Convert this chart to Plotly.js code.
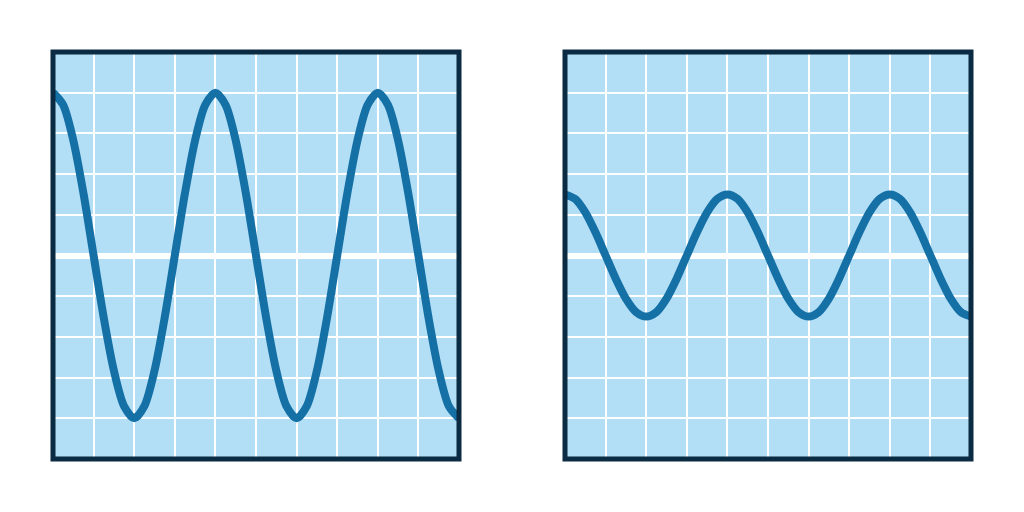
<!DOCTYPE html>
<html>
<head>
<meta charset="utf-8">
<script src="https://cdn.plot.ly/plotly-3.0.1.min.js"></script>
<style>html,body{margin:0;padding:0;background:#fff;}#chart{width:1024px;height:512px;}</style>
</head>
<body>
<div id="chart"></div>
<script>
// Grid-unit positions along each panel
const xPositions = [0,0.25,0.5,0.75,1,1.25,1.5,1.75,2,2.25,2.5,2.75,3,3.25,3.5,3.75,4,4.25,4.5,4.75,5,
                    5.25,5.5,5.75,6,6.25,6.5,6.75,7,7.25,7.5,7.75,8,8.25,8.5,8.75,9,9.25,9.5,9.75,10];
// Left panel: large-amplitude wave
const leftWave  = [4,3.7,2.83,1.53,0,-1.53,-2.83,-3.7,-4,-3.7,-2.83,-1.53,0,1.53,2.83,3.7,4,3.7,2.83,1.53,0,
                   -1.53,-2.83,-3.7,-4,-3.7,-2.83,-1.53,0,1.53,2.83,3.7,4,3.7,2.83,1.53,0,-1.53,-2.83,-3.7,-4];
// Right panel: small-amplitude wave
const rightWave = [1.5,1.39,1.06,0.57,0,-0.57,-1.06,-1.39,-1.5,-1.39,-1.06,-0.57,0,0.57,1.06,1.39,1.5,1.39,1.06,0.57,0,
                   -0.57,-1.06,-1.39,-1.5,-1.39,-1.06,-0.57,0,0.57,1.06,1.39,1.5,1.39,1.06,0.57,0,-0.57,-1.06,-1.39,-1.5];

const lineColor = '#1570a6';
const bg = '#b3dff6';
const border = '#0b2b42';

const traces = [
  {x: xPositions, y: leftWave, xaxis:'x', yaxis:'y', mode:'lines',
   line:{color:lineColor, width:8, shape:'spline', smoothing:0.8}, hoverinfo:'skip'},
  {x: xPositions, y: rightWave, xaxis:'x2', yaxis:'y2', mode:'lines',
   line:{color:lineColor, width:8, shape:'spline', smoothing:0.8}, hoverinfo:'skip'}
];

function xa(domain){
  return {domain:domain, range:[0,10], dtick:1, tick0:0, showgrid:true, gridcolor:'#ffffff', gridwidth:2,
          zeroline:false, showline:false, showticklabels:false, ticks:'', fixedrange:true};
}
function ya(anchor){
  return {domain:[53/512, 460/512], range:[-5,5], dtick:1, tick0:0, showgrid:true, gridcolor:'#ffffff', gridwidth:2,
          zeroline:true, zerolinecolor:'#ffffff', zerolinewidth:6, showline:false, showticklabels:false,
          ticks:'', fixedrange:true, anchor:anchor};
}

const layout = {
  width:1024, height:512,
  margin:{l:0,r:0,t:0,b:0},
  paper_bgcolor:'#ffffff',
  plot_bgcolor:bg,
  showlegend:false,
  xaxis: Object.assign(xa([53/1024, 459/1024]), {anchor:'y'}),
  yaxis: ya('x'),
  xaxis2: Object.assign(xa([565/1024, 971/1024]), {anchor:'y2'}),
  yaxis2: ya('x2'),
  shapes:[
    {type:'rect', xref:'x domain', yref:'y domain', x0:0, x1:1, y0:0, y1:1,
     line:{color:border, width:5}, fillcolor:'rgba(0,0,0,0)', layer:'above'},
    {type:'rect', xref:'x2 domain', yref:'y2 domain', x0:0, x1:1, y0:0, y1:1,
     line:{color:border, width:5}, fillcolor:'rgba(0,0,0,0)', layer:'above'}
  ]
};

Plotly.newPlot('chart', traces, layout, {staticPlot:true, displayModeBar:false});
</script>
</body>
</html>
